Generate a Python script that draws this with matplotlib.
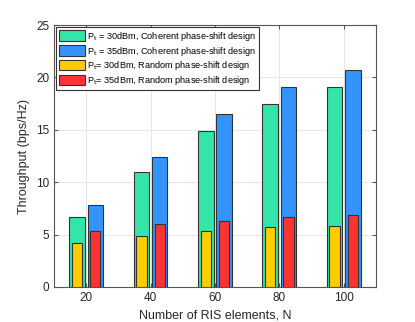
import numpy as np
import matplotlib
matplotlib.use("Agg")
import matplotlib.pyplot as plt

plt.rcParams["font.family"] = ["Liberation Sans", "DejaVu Sans"]

ris_elements = [20, 40, 60, 80, 100]
coherent_30 = [6.65, 11.0, 14.9, 17.45, 19.05]
coherent_35 = [7.8, 12.45, 16.55, 19.05, 20.7]
random_30 = [4.2, 4.85, 5.3, 5.7, 5.85]
random_35 = [5.3, 6.05, 6.25, 6.7, 6.9]

labels = [
    r"P$_{\rm t}$ = 30dBm, Coherent phase-shift design",
    r"P$_{\rm t}$ = 35dBm, Coherent phase-shift design",
    r"P$_{\rm t}$= 30dBm, Random phase-shift design",
    r"P$_{\rm t}$= 35dBm, Random phase-shift design",
]
colors = ["#33E6A8", "#3393FF", "#FFCC00", "#FF3333"]

x = np.array(ris_elements, dtype=float)
off = 2.85
wide, narrow = 4.8, 3.2

fig = plt.figure(figsize=(4.15, 3.22), dpi=100)
ax = fig.add_axes([0.130, 0.109, 0.776, 0.813])

ekw = dict(edgecolor="#333333", linewidth=0.8, zorder=3)
b1 = ax.bar(x - off, coherent_30, wide, color=colors[0], **ekw)
b2 = ax.bar(x + off, coherent_35, wide, color=colors[1], **ekw)
b3 = ax.bar(x - off, random_30, narrow, color=colors[2], **ekw)
b4 = ax.bar(x + off, random_35, narrow, color=colors[3], **ekw)

ax.set_xlim(10, 110)
ax.set_ylim(0, 25)
ax.set_xticks(ris_elements)
ax.set_yticks([0, 5, 10, 15, 20, 25])
ax.grid(True, color="#e6e6e6", linewidth=0.7, zorder=0)
ax.set_axisbelow(True)
ax.tick_params(direction="in", top=True, right=True, labelsize=8.5,
               color="#555555", labelcolor="#262626", length=3)
for s in ax.spines.values():
    s.set_color("#555555")
    s.set_linewidth(0.8)

ax.set_xlabel("Number of RIS elements, N", fontsize=9, color="#262626")
ax.set_ylabel("Throughput (bps/Hz)", fontsize=9, color="#262626")

leg = ax.legend([b1, b2, b3, b4], labels, loc="upper left", fontsize=6.6,
                fancybox=False, edgecolor="#333333", framealpha=1,
                borderaxespad=0.2, handlelength=2.9, handleheight=1.35,
                handletextpad=0.2, labelspacing=0.2, borderpad=0.3)
leg.get_frame().set_linewidth(0.8)

fig.savefig("out.png", dpi=100)
plt.close(fig)
